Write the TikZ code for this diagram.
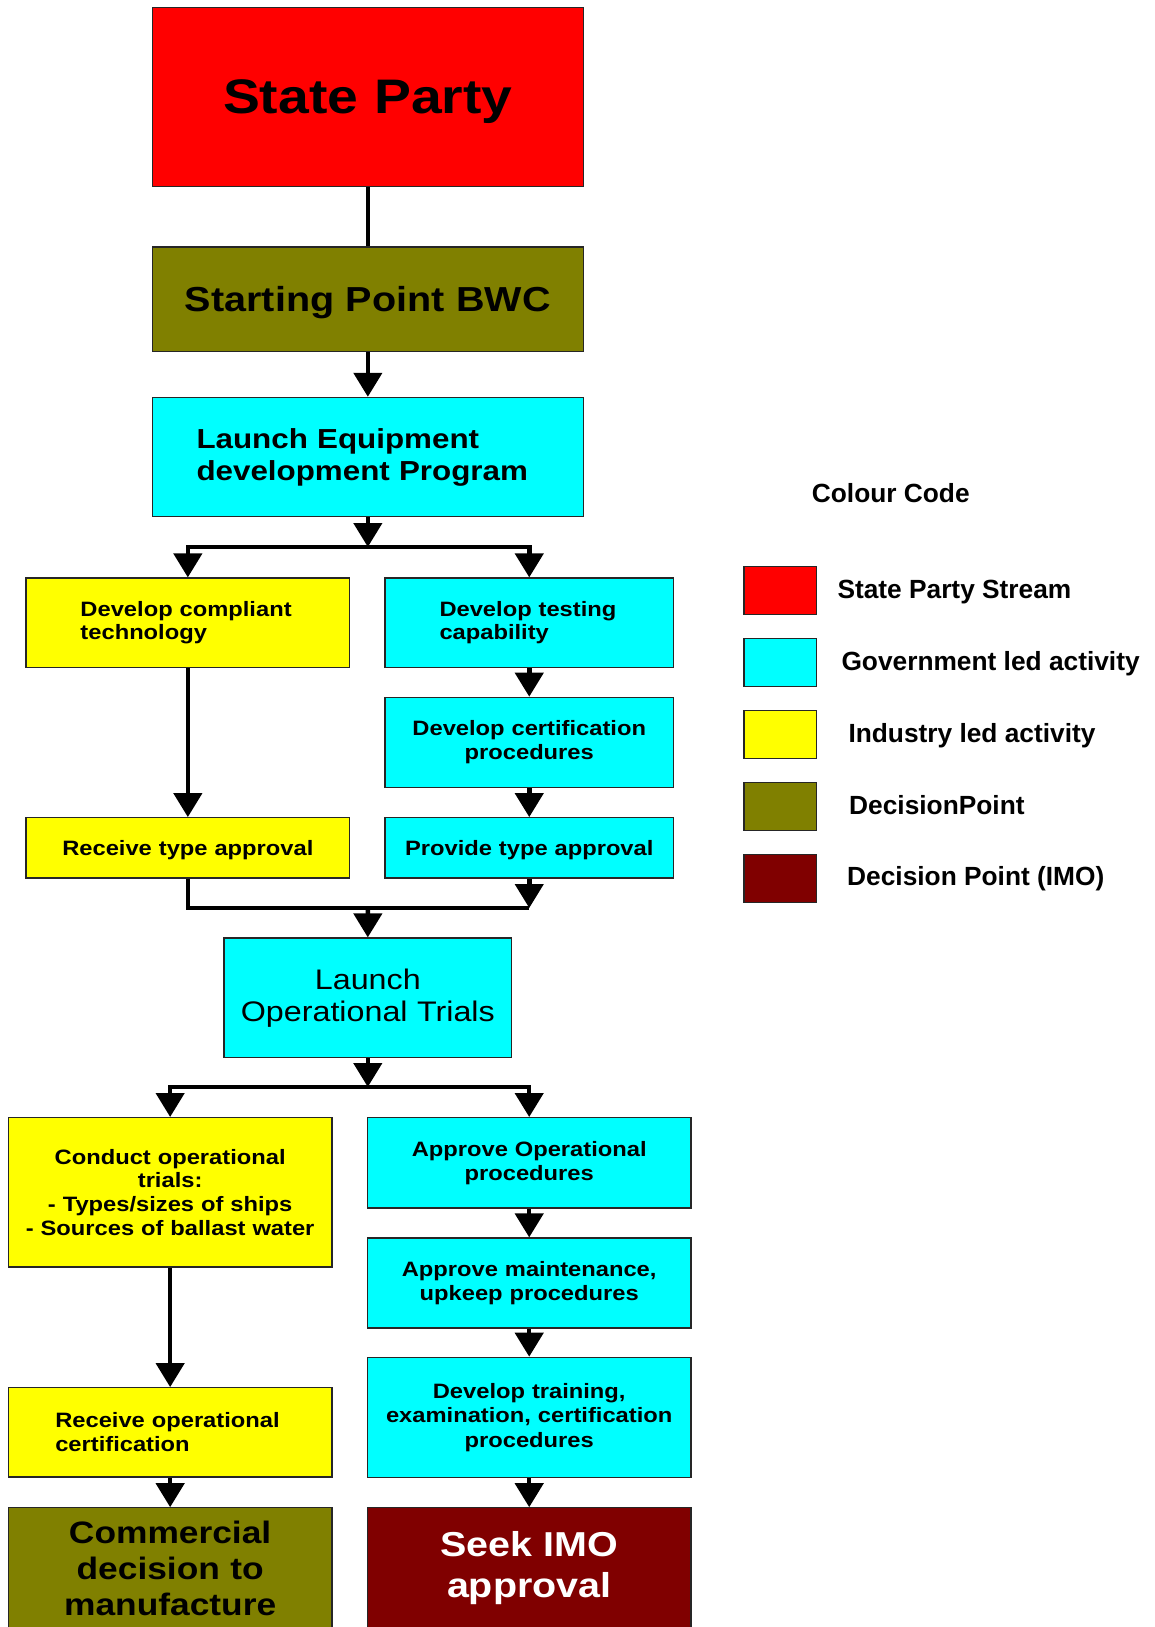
\documentclass[tikz,border=0pt]{standalone}
\usepackage{fontspec}
\setmainfont{Liberation Sans}
\newfontfamily\bxfont{Liberation Sans}[FakeStretch=1.14]
\usetikzlibrary{arrows.meta}
\definecolor{olivebox}{HTML}{808000}
\definecolor{maroonbox}{HTML}{800000}
\definecolor{cyanbox}{HTML}{00FFFF}
\definecolor{yellowbox}{HTML}{FFFF00}
\definecolor{redbox}{HTML}{FF0000}
\newcommand{\fsz}[2]{\fontsize{#1}{#2}\selectfont}
\newcommand{\lpad}[1]{\hspace*{#1pt}}
\tikzset{
  box/.style={draw=black!85, line width=1.2pt, rectangle, inner xsep=0pt, inner ysep=0pt, align=center},
  oneline/.style={text depth=0pt},
  wide/.style={minimum width=430.7pt, text width=430.7pt},
  colL/.style={minimum width=323.7pt, text width=323.7pt},
  colR/.style={minimum width=288.5pt, text width=288.5pt},
  colLOT/.style={minimum width=287.6pt, text width=287.6pt},
  bigfont/.style={font=\bxfont\bfseries\fsz{48.5}{56}},
  midfont/.style={font=\bxfont\bfseries\fsz{34.7}{40}},
  lefont/.style={font=\bxfont\bfseries\fsz{27.5}{32}},
  smallfont/.style={font=\bxfont\bfseries\fsz{20.8}{23.8}},
  lotfont/.style={font=\bxfont\fsz{28.3}{32}},
  comfont/.style={font=\bxfont\bfseries\fsz{31}{36}},
  imofont/.style={font=\bxfont\bfseries\fsz{34.6}{41}},
  legbox/.style={draw=black!85, line width=1.2pt, minimum width=72.7pt, minimum height=48pt, inner sep=0pt},
  legtext/.style={anchor=base west, inner sep=0pt, font=\bfseries\fsz{26.3}{30}},
  conn/.style={line width=4.5pt, draw=black},
  arr/.style={conn, -{Triangle[width=28pt,length=24pt]}}
}
\begin{document}
\begin{tikzpicture}[x=1pt,y=-1pt]
\useasboundingbox (0,0) rectangle (1155,1627);
\clip (0,0) rectangle (1155,1627);
\fill[white] (0,0) rectangle (1155,1627);

% main column
\node[box, wide, fill=redbox, minimum height=179.5pt, bigfont, oneline] (SP) at (367.85,97) {State Party};
\node[box, wide, fill=olivebox, minimum height=104.8pt, midfont, oneline] (BWC) at (367.85,299.4) {Starting Point BWC};
\node[box, wide, fill=cyanbox, minimum height=119.4pt, lefont, align=left] (LE) at (367.85,457.1) {\lpad{44}Launch Equipment\\\lpad{44}development Program};

% first branch
\node[box, colL, fill=yellowbox, minimum height=89.3pt, smallfont, align=left] (DCT) at (187.85,622.65) {\lpad{54.5}Develop compliant\\\lpad{54.5}technology};
\node[box, colR, fill=cyanbox, minimum height=89.3pt, smallfont, align=left] (DTC) at (529.25,622.65) {\lpad{54.5}Develop testing\\\lpad{54.5}capability};
\node[box, colR, fill=cyanbox, minimum height=90.3pt, smallfont] (DCP) at (529.25,742.45) {Develop certification\\procedures};
\node[box, colL, fill=yellowbox, minimum height=60.2pt, smallfont, oneline] (RTA) at (187.85,847.8) {Receive type approval};
\node[box, colR, fill=cyanbox, minimum height=60.2pt, smallfont, oneline] (PTA) at (529.25,847.8) {Provide type approval};

\node[box, colLOT, fill=cyanbox, minimum height=119.4pt, lotfont] (LOT) at (367.8,997.7) {Launch\\Operational Trials};

% second branch
\node[box, colL, fill=yellowbox, minimum height=149.4pt, smallfont] (COT) at (170.15,1192.3) {Conduct operational\\trials:\\- Types/sizes of ships\\- Sources of ballast water};
\node[box, colL, fill=cyanbox, minimum height=90.4pt, smallfont] (AOP) at (529.2,1162.8) {Approve Operational\\procedures};
\node[box, colL, fill=cyanbox, minimum height=90pt, smallfont] (AMP) at (529.2,1283) {Approve maintenance,\\upkeep procedures};
\node[box, colL, fill=cyanbox, minimum height=120.4pt, smallfont, font=\bxfont\bfseries\fsz{20.8}{24.3}] (DTEC) at (529.2,1417.5) {Develop training,\\examination, certification\\procedures};
\node[box, colL, fill=yellowbox, minimum height=89.2pt, smallfont, align=left] (ROC) at (170.15,1432.3) {\lpad{47}Receive operational\\\lpad{47}certification};
\node[box, colL, fill=olivebox, minimum height=120.4pt, comfont] (CDM) at (170.15,1568) {Commercial\\decision to\\manufacture};
\node[box, colL, fill=maroonbox, minimum height=120.4pt, imofont, text=white] (SIA) at (529.2,1568) {Seek IMO\\approval};

% connectors
\coordinate (b1) at (367.85,547);
\coordinate (m1) at (367.85,908);
\coordinate (m2) at (529.25,908);
\coordinate (b2) at (367.8,1087);

\draw[conn] (SP.south) -- (BWC.north);
\draw[arr] (BWC.south) -- (LE.north);
\draw[arr] (LE.south) -- (b1);
\draw[arr] (b1) -| (DCT.north);
\draw[arr] (b1) -| (DTC.north);
\draw[arr] (DTC.south) -- (DCP.north);
\draw[arr] (DCP.south) -- (PTA.north);
\draw[arr] (DCT.south) -- (RTA.north);
\draw[conn] (RTA.south) |- (m2);
\draw[arr] (PTA.south) -- (m2);
\draw[arr] (m1) -- (LOT.north);
\draw[arr] (LOT.south) -- (b2);
\draw[arr] (b2) -| (COT.north);
\draw[arr] (b2) -| (AOP.north);
\draw[arr] (AOP.south) -- (AMP.north);
\draw[arr] (AMP.south) -- (DTEC.north);
\draw[arr] (COT.south) -- (ROC.north);
\draw[arr] (ROC.south) -- (CDM.north);
\draw[arr] (DTEC.south) -- (SIA.north);

% legend
\node[legtext] (LGT) at (811.7,502.3) {Colour Code};
\node[legbox, fill=redbox] (L1) at (780.35,590.7) {};
\node[legbox, fill=cyanbox] (L2) at (780.35,662.7) {};
\node[legbox, fill=yellowbox] (L3) at (780.35,734.7) {};
\node[legbox, fill=olivebox] (L4) at (780.35,806.7) {};
\node[legbox, fill=maroonbox] (L5) at (780.35,878.7) {};
\node[legtext] (T1) at (837.3,598.3) {State Party Stream};
\node[legtext] (T2) at (841.3,670.7) {Government led activity};
\node[legtext] (T3) at (848.3,742.3) {Industry led activity};
\node[legtext] (T4) at (849,814) {DecisionPoint};
\node[legtext] (T5) at (847,885.3) {Decision Point (IMO)};
\end{tikzpicture}
\end{document}
